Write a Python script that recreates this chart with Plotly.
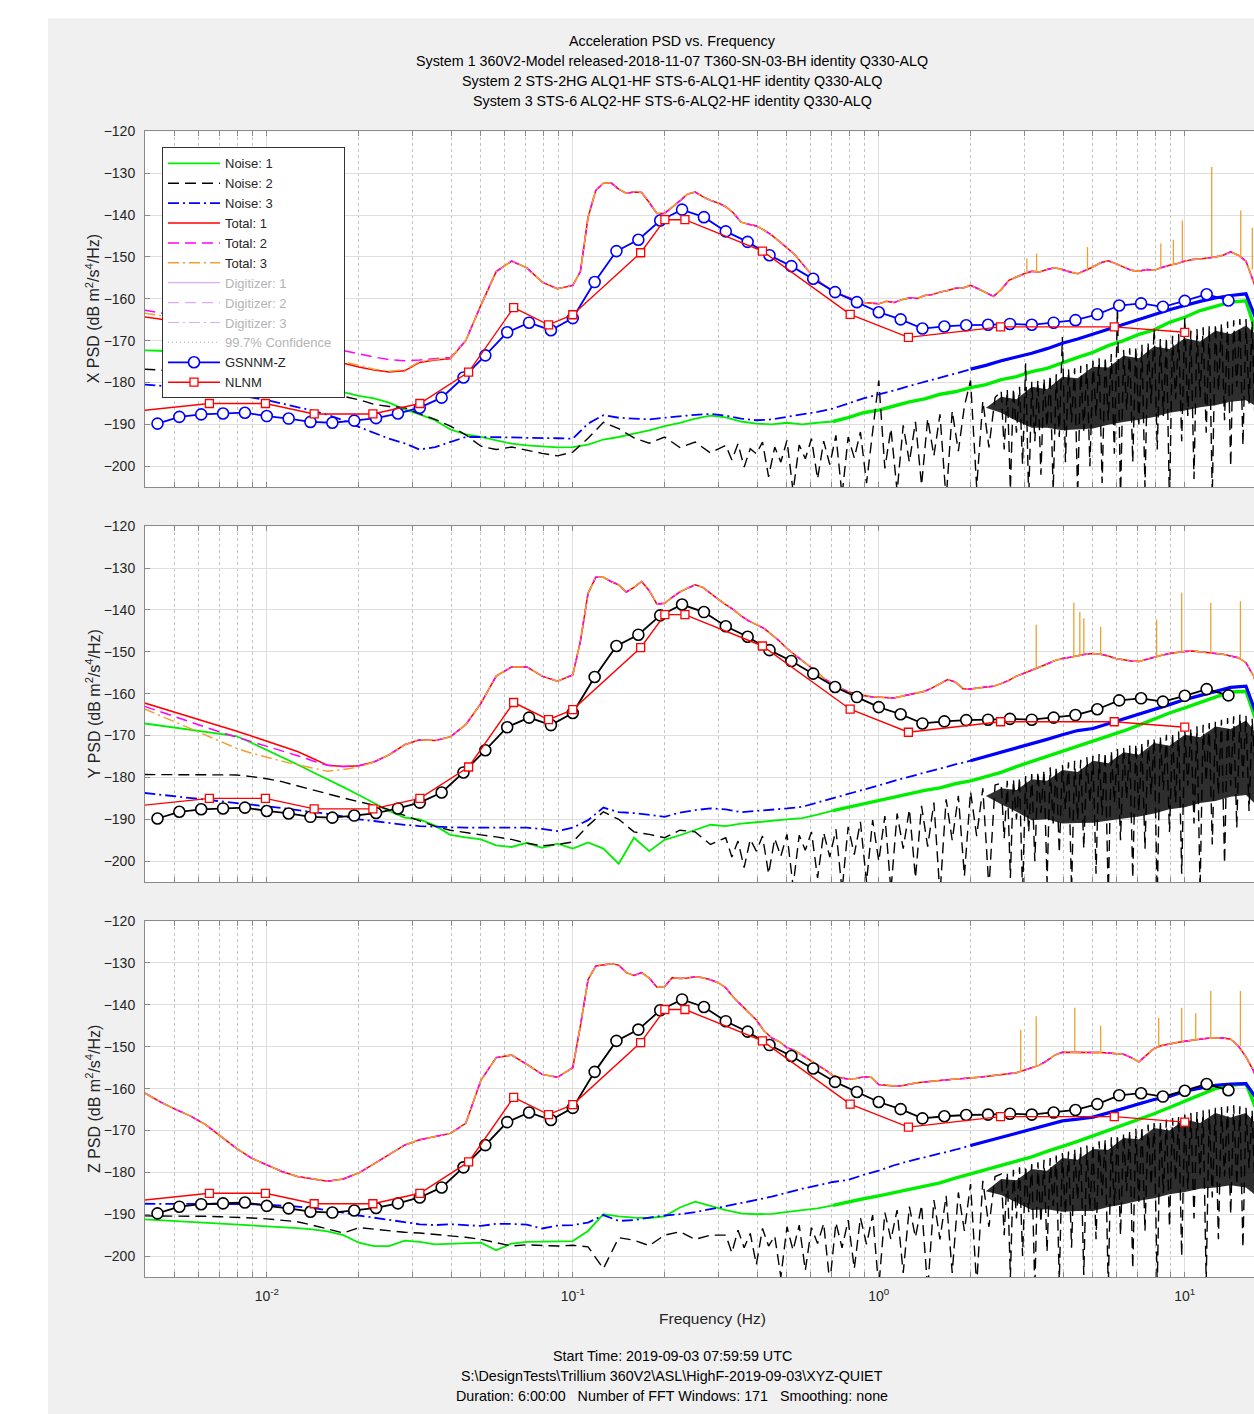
import math
import plotly.graph_objects as go

# ---------------- frequency grids (Hz) ----------------
F_LO = [0.00398, 0.00447, 0.00501, 0.00562, 0.00631, 0.00708, 0.00794, 0.00891,
        0.0100, 0.0112, 0.0126, 0.0141, 0.0158, 0.0178, 0.0200, 0.0224, 0.0251,
        0.0282, 0.0316, 0.0355, 0.0398, 0.0447, 0.0501, 0.0562, 0.0631, 0.0708,
        0.0794, 0.0891, 0.100]
F_MID = [0.1059, 0.1122, 0.1189, 0.1259, 0.1334, 0.1413, 0.1496, 0.1585, 0.1679, 0.1778,
         0.1884, 0.1995, 0.2113, 0.2239, 0.2371, 0.2512, 0.2661, 0.2818, 0.2985, 0.3162,
         0.3350, 0.3548, 0.3758, 0.3981, 0.4217, 0.4467, 0.4732, 0.5012, 0.5309, 0.5623,
         0.5957, 0.6310, 0.6683, 0.7079, 0.7499, 0.7943, 0.8414, 0.8913, 0.9441]
F_HI = [1.000, 1.059, 1.122, 1.189, 1.259, 1.334, 1.413, 1.496, 1.585, 1.679,
        1.778, 1.884, 1.995, 2.113, 2.239, 2.371, 2.512, 2.661, 2.818, 2.985,
        3.162, 3.350, 3.548, 3.758, 3.981, 4.217, 4.467, 4.732, 5.012, 5.309,
        5.623, 5.957, 6.310, 6.683, 7.079, 7.499, 7.943, 8.414, 8.913, 9.441,
        10.00, 10.59, 11.22, 11.89, 12.59, 13.34, 14.13, 14.96, 15.85, 16.79, 17.78]
F_N_HI = [0.1122, 0.1259, 0.1413, 0.1585, 0.1778, 0.1995, 0.2239, 0.2512, 0.2818, 0.3162,
          0.3548, 0.3981, 0.4467, 0.5012, 0.5623, 0.6310, 0.7079, 0.7943, 0.8913, 1.000,
          1.122, 1.259, 1.413, 1.585, 1.778, 1.995, 2.239, 2.512, 2.818, 3.162,
          3.548, 3.981, 4.467, 5.012, 5.623, 6.310, 7.079, 7.943, 8.913, 10.00,
          11.22, 12.59, 14.13, 15.85, 17.78]
F_BLK_MID = [0.1122, 0.1259, 0.1413, 0.1585, 0.1778, 0.1995, 0.2239, 0.2512, 0.2818]
F_SPK = [0.3162, 0.3311, 0.3467, 0.3631, 0.3802, 0.3981, 0.4169, 0.4365, 0.4571, 0.4786,
         0.5012, 0.5248, 0.5495, 0.5754, 0.6026, 0.6310, 0.6607, 0.6918, 0.7244, 0.7586,
         0.7943, 0.8318, 0.8710, 0.9120, 0.9550, 1.000, 1.047, 1.096, 1.148, 1.202,
         1.259, 1.318, 1.380, 1.445, 1.514, 1.585, 1.660, 1.738, 1.820, 1.905,
         1.995, 2.089, 2.188, 2.291, 2.399,
         2.512, 2.570, 2.630, 2.692, 2.754, 2.818, 2.884, 2.951, 3.020, 3.090,
         3.162, 3.236, 3.311, 3.388, 3.467, 3.548, 3.631, 3.715, 3.802, 3.890,
         3.981, 4.074, 4.169, 4.266, 4.365, 4.467, 4.571, 4.677, 4.786, 4.898,
         5.012, 5.129, 5.248, 5.370, 5.495, 5.623, 5.754, 5.888, 6.026, 6.166,
         6.310, 6.457, 6.607, 6.761, 6.918, 7.079, 7.244, 7.413, 7.586, 7.762,
         7.943, 8.128, 8.318, 8.511, 8.710, 8.913, 9.120, 9.333, 9.550, 9.772,
         10.00, 10.23, 10.47, 10.72, 10.96, 11.22, 11.48, 11.75, 12.02, 12.30,
         12.59, 12.88, 13.18, 13.49, 13.80, 14.13, 14.45, 14.79, 15.14, 15.49,
         15.85, 16.22, 16.60, 16.98, 17.38]
# dense part of the spiky Noise 2 band
F_CORE = [2.239, 2.512, 2.818, 3.162, 3.548, 3.981, 4.467, 5.012, 5.623, 6.310,
          7.079, 7.943, 8.913, 10.00, 11.22, 12.59, 14.13, 15.85, 17.38]

# ---------------- reference noise models ----------------
GSNNM_F = [0.004394, 0.005179, 0.006105, 0.007197, 0.008483, 0.01, 0.01179, 0.01389, 0.01638, 0.01931,
           0.02276, 0.02683, 0.03162, 0.03728, 0.04394, 0.05179, 0.06105, 0.07197, 0.08483, 0.1,
           0.1179, 0.1389, 0.1638, 0.1931, 0.2276, 0.2683, 0.3162, 0.3728, 0.4394, 0.5179,
           0.6105, 0.7197, 0.8483, 1.0, 1.179, 1.389, 1.638, 1.931, 2.276, 2.683,
           3.162, 3.728, 4.394, 5.179, 6.105, 7.197, 8.483, 10.0, 11.79, 13.89]
GSNNM_DB = [-189.8, -188.2, -187.6, -187.4, -187.2, -188.0, -188.6, -189.4, -189.6, -189.1,
            -188.5, -187.4, -186.0, -183.6, -178.8, -173.5, -168.0, -165.7, -167.5, -164.6,
            -156.0, -148.6, -145.9, -141.3, -138.7, -140.5, -143.9, -146.4, -149.6, -152.2,
            -155.2, -158.4, -160.8, -163.2, -164.9, -167.1, -166.6, -166.3, -166.2, -166.0,
            -166.2, -165.7, -165.1, -163.7, -161.6, -161.1, -161.9, -160.5, -158.9, -160.4]
NLNM_PERIOD = [328, 154, 101, 70, 45, 31.6, 21.9, 15.6, 12, 10, 6, 5, 4.3, 2.4, 1.24, 0.8, 0.4, 0.17, 0.1]
NLNM_DB = [-187.5, -185.0, -185.0, -187.5, -187.5, -185.0, -177.5, -162.1, -166.2, -163.8,
           -149.0, -141.1, -141.1, -148.6, -163.7, -169.2, -166.7, -166.7, -168.0]

# ---------------- X component ----------------
tot1_lo_X = [-164.3, -164.8, -165.6, -166.4, -167.2, -168.0, -168.8, -169.6, -170.4, -171.2, -172.0, -173.0,
             -174.2, -175.4, -176.3, -177.0, -177.5, -177.2, -175.2, -174.6, -174.3, -170.0, -161.5, -153.5,
             -151.0, -152.6, -156.0, -157.6, -156.8]
tot2_lo_X = [-162.7, -163.3, -164.0, -164.8, -165.5, -166.3, -167.0, -167.8, -168.5, -169.2, -170.0, -170.8,
             -171.6, -172.4, -173.2, -173.9, -174.5, -174.8, -174.6, -174.3, -174.0, -170.0, -161.5, -153.5,
             -151.0, -152.6, -156.0, -157.6, -156.8]
tot3_lo_X = [-163.4, -164.0, -164.8, -165.6, -166.4, -167.2, -168.0, -168.8, -169.6, -170.4, -171.2, -172.2,
             -173.4, -175.0, -176.0, -176.8, -177.3, -177.0, -175.0, -174.5, -174.2, -170.0, -161.5, -153.5,
             -151.0, -152.6, -156.0, -157.6, -156.8]
tot_common_X = [-153.5, -140.5, -134.1, -132.4, -132.3, -133.8, -134.8, -134.5, -134.6, -137.0,
                -139.6, -139.6, -138.2, -136.6, -135.0, -134.5, -135.6, -136.5, -137.1, -138.0,
                -139.5, -141.7, -142.2, -142.6, -143.6, -144.8, -146.3, -147.8, -149.4, -151.6,
                -153.8, -155.6, -157.0, -158.2, -159.0, -159.7, -160.3, -160.9, -161.1,
                -161.2, -160.6, -160.9, -160.2, -159.8, -159.9, -159.2, -159.0, -158.4, -158.0,
                -157.5, -157.4, -156.8, -157.6, -158.6, -159.4, -157.8, -155.6, -154.8, -154.0,
                -153.4, -153.6, -153.0, -152.6, -153.0, -153.6, -154.0, -153.2, -152.4, -151.4,
                -150.9, -151.6, -152.4, -153.2, -153.4, -153.0, -153.2, -152.5, -152.0, -151.6,
                -151.0, -150.6, -150.5, -150.3, -150.0, -149.6, -148.8, -149.6, -151.0, -156.0, -162.0]
spk_f_X = [3.048, 3.28, 4.81, 8.35, 9.18, 9.82, 12.25, 15.24, 16.63]
spk_base_X = [-154.0, -153.6, -153.4, -152.5, -151.8, -151.0, -150.2, -149.8, -153.0]
spk_peak_X = [-150.4, -149.2, -147.6, -146.8, -145.9, -141.3, -128.5, -138.9, -143.0]
noise1_X = [-172.3, -172.4, -172.8, -173.2, -173.7, -174.3, -175.0, -175.8, -176.7, -177.6, -178.6, -179.6,
            -180.8, -182.3, -183.2, -183.8, -184.8, -186.4, -187.6, -189.0, -191.2, -192.4, -193.0, -193.8,
            -194.6, -195.0, -195.3, -195.5, -195.4,
            -194.8, -193.6, -193.0, -192.2, -191.4, -190.4, -189.6, -188.6, -187.9, -188.3,
            -189.3, -189.8, -190.0, -189.6, -190.0, -189.6, -189.3, -188.4, -187.2, -186.6,
            -185.6, -184.6, -183.9, -182.8, -182.2, -181.2, -180.5, -179.3, -178.6, -177.4,
            -176.6, -175.2, -174.0, -172.8, -171.2, -170.0, -168.5, -167.4, -165.6, -164.4,
            -162.8, -161.8, -160.8, -160.5, -172.0]
noise3_X = [-180.5, -180.7, -181.0, -181.4, -181.8, -182.3, -182.9, -183.5, -184.2, -185.0, -185.8, -186.7,
            -187.7, -189.0, -190.6, -192.0, -193.4, -194.5, -196.0, -195.4, -194.2, -193.0, -193.0, -193.0,
            -193.1, -193.2, -193.2, -193.3, -193.4,
            -189.8, -187.8, -188.4, -188.6, -188.8, -188.4, -188.0, -187.7, -187.5, -187.9,
            -188.6, -189.0, -188.8, -188.2, -187.6, -187.0, -186.2, -185.0, -183.8, -182.8,
            -181.9, -180.8, -179.8, -178.8, -177.8, -176.8, -175.9, -174.8, -173.9, -173.0,
            -171.9, -170.6, -169.6, -168.4, -167.2, -166.0, -164.9, -163.8, -162.6, -161.6,
            -160.6, -159.8, -159.2, -158.8, -168.0]
noise2_X = [-176.8, -177.0, -177.4, -177.9, -178.5, -179.1, -179.7, -180.3, -180.9, -181.4, -181.9, -182.4,
            -182.9, -183.3, -184.1, -185.2, -185.7, -186.0, -187.5, -188.8, -190.4, -192.5, -195.2, -196.0,
            -195.4, -196.2, -196.9, -197.5, -196.6,
            -193.3, -189.5, -191.0, -193.2, -194.5, -193.0, -195.5, -194.2, -196.8,
            -195.0, -198.5, -194.6, -200.2, -195.8, -197.0, -194.2, -202.5, -195.4, -199.0,
            -193.8, -206.0, -194.9, -198.2, -193.4, -203.0, -194.0, -199.6, -192.6, -207.0,
            -193.0, -198.0, -191.8, -204.0, -192.2, -179.5, -200.5, -191.0, -206.0, -190.2,
            -199.0, -189.4, -204.5, -188.6, -197.5, -187.6, -208.0, -186.8, -196.4, -185.6,
            -179.5, -205.0, -184.4, -195.5, -183.6,
            -182.0, -196.0, -181.6, -205.5, -181.4, -192.0, -181.0, -199.5, -175.4, -208.0,
            -179.8, -194.0, -179.4, -202.0, -179.0, -190.5, -178.2, -206.0, -178.0, -193.0,
            -169.1, -199.0, -176.8, -189.5, -176.6, -207.0, -176.0, -191.5, -175.6, -200.0,
            -174.8, -188.0, -174.2, -204.0, -173.8, -189.0, -173.2, -197.0, -162.0, -208.0,
            -172.2, -186.5, -171.8, -199.0, -171.4, -190.0, -171.0, -205.0, -170.4, -185.0,
            -167.0, -196.0, -169.6, -188.0, -169.2, -209.0, -168.8, -184.0, -168.4, -194.0,
            -164.5, -188.0, -167.6, -203.0, -167.2, -183.5, -166.8, -192.0, -166.4, -207.0,
            -166.0, -182.0, -165.8, -189.0, -165.4, -200.0, -165.1, -181.0, -164.8, -195.0,
            -164.8, -185.0, -165.4, -191.0, -167.0]
core_up_X = [-186.0, -183.4, -184.0, -181.0, -181.6, -178.6, -179.0, -176.2, -176.4, -173.6,
             -174.2, -171.4, -172.0, -169.4, -170.2, -167.6, -168.4, -166.4, -169.0]
core_lo_X = [-186.0, -187.2, -189.2, -190.8, -190.8, -191.4, -191.2, -191.0, -190.1, -189.4,
             -188.9, -188.2, -187.2, -186.7, -185.9, -185.4, -184.6, -184.2, -186.0]

# ---------------- Y component ----------------
tot1_lo_Y = [-162.2, -163.3, -164.5, -165.6, -166.7, -167.8, -168.9, -170.1, -171.3, -172.5, -173.8, -175.4,
             -177.1, -177.4, -177.2, -176.3, -174.6, -172.2, -171.0, -171.2, -170.3, -167.4, -162.3, -155.8,
             -153.6, -153.6, -155.8, -157.0, -155.5]
tot2_lo_Y = [-163.0, -164.3, -165.6, -166.8, -168.0, -169.2, -170.3, -171.4, -172.6, -173.7, -174.8, -176.0,
             -177.1, -177.4, -177.2, -176.3, -174.6, -172.2, -171.0, -171.2, -170.3, -167.4, -162.3, -155.8,
             -153.6, -153.6, -155.8, -157.0, -155.5]
tot3_lo_Y = [-163.6, -165.2, -166.8, -168.4, -170.0, -171.5, -173.0, -174.2, -175.2, -176.1, -177.0, -177.8,
             -178.5, -178.1, -177.5, -176.3, -174.6, -172.2, -171.0, -171.2, -170.3, -167.4, -162.3, -155.8,
             -153.6, -153.6, -155.8, -157.0, -155.5]
tot_common_Y = [-147.5, -136.0, -132.2, -132.2, -133.2, -134.0, -135.7, -134.6, -133.2, -135.4,
                -138.6, -138.4, -137.0, -135.7, -134.8, -134.0, -134.6, -136.1, -137.4, -138.7,
                -139.9, -141.4, -142.6, -143.5, -144.4, -145.9, -147.4, -149.2, -150.6, -152.1,
                -153.6, -155.0, -156.6, -157.7, -158.7, -159.5, -160.0, -160.4, -160.7,
                -160.8, -161.0, -161.0, -160.6, -160.2, -159.8, -159.4, -158.6, -157.6, -156.6,
                -157.2, -158.8, -158.9, -158.6, -158.4, -158.2, -157.6, -156.8, -155.8, -155.1,
                -154.4, -153.7, -152.9, -152.1, -151.6, -151.3, -150.9, -150.6, -150.4, -150.6,
                -151.0, -151.6, -151.9, -152.2, -152.3, -151.8, -151.2, -150.8, -150.4, -150.1,
                -149.9, -149.8, -150.0, -150.1, -150.3, -150.6, -151.0, -151.4, -152.6, -155.8, -161.0]
spk_f_Y = [3.27, 4.34, 4.54, 4.68, 5.31, 8.09, 9.77, 12.16, 15.2]
spk_base_Y = [-153.7, -151.2, -150.8, -150.7, -150.6, -151.2, -149.9, -150.1, -151.4]
spk_peak_Y = [-143.5, -138.3, -140.5, -142.0, -144.0, -142.3, -135.9, -138.3, -137.9]
noise1_Y = [-167.1, -167.6, -168.1, -168.6, -169.1, -169.6, -170.1, -171.7, -173.4, -175.2, -176.9, -178.7,
            -180.4, -182.3, -184.2, -186.0, -188.0, -189.6, -190.0, -191.5, -193.7, -194.3, -194.8, -196.2,
            -196.6, -195.6, -196.8, -195.8, -197.0,
            -195.5, -197.0, -200.6, -194.4, -197.6, -194.9, -193.8, -192.6, -191.3, -191.6,
            -191.0, -190.7, -190.3, -190.0, -189.7, -188.9, -187.9, -187.1, -186.2, -185.5,
            -184.8, -184.0, -183.1, -182.5, -181.5, -180.8, -179.8, -178.8, -177.4, -176.2,
            -175.1, -173.8, -172.7, -171.5, -170.2, -168.9, -167.5, -166.0, -164.6, -163.4,
            -162.0, -160.8, -159.6, -159.4, -170.0]
noise3_Y = [-183.7, -184.1, -184.5, -184.9, -185.2, -185.6, -186.0, -186.4, -186.8, -187.3, -187.8, -188.2,
            -188.7, -189.3, -190.0, -190.4, -190.9, -191.3, -191.6, -191.8, -191.9, -192.0, -192.0, -192.0,
            -192.0, -192.0, -192.3, -192.8, -192.0,
            -190.2, -187.2, -188.3, -188.5, -189.0, -189.4, -188.4, -187.8, -187.4, -187.6,
            -188.3, -188.0, -187.8, -187.4, -187.0, -186.0, -184.9, -184.0, -182.9, -181.9,
            -180.8, -179.8, -178.8, -177.9, -176.9, -176.0, -175.0, -173.9, -173.0, -171.9,
            -170.9, -169.8, -168.8, -168.3, -167.2, -166.0, -164.8, -163.7, -162.6, -161.4,
            -160.4, -159.4, -158.5, -158.2, -168.0]
noise2_Y = [-179.3, -179.3, -179.3, -179.3, -179.3, -179.3, -179.4, -179.8, -180.3, -181.0, -182.0, -182.9,
            -184.0, -184.9, -185.8, -186.6, -187.7, -189.0, -190.3, -191.7, -192.6, -193.2, -193.7, -194.2,
            -194.8, -195.7, -196.3, -196.0, -195.4,
            -191.5, -188.2, -190.0, -193.0, -193.6, -194.4, -192.6, -193.0, -196.0,
            -194.4, -199.0, -195.2, -201.5, -194.8, -197.6, -194.0, -203.0, -194.6, -198.8,
            -193.6, -206.0, -193.8, -197.4, -193.0, -204.0, -193.2, -199.0, -192.4, -207.0,
            -191.8, -198.4, -190.6, -205.0, -190.2, -200.0, -189.2, -207.0, -188.6, -197.0,
            -187.6, -204.0, -186.8, -196.5, -186.0, -208.0, -185.2, -195.0, -184.4, -203.5,
            -183.4, -194.0, -182.6, -206.5, -181.8,
            -181.4, -194.5, -180.8, -204.0, -180.4, -190.0, -180.0, -208.0, -179.6, -193.0,
            -179.2, -200.0, -178.6, -188.5, -178.2, -205.0, -177.6, -191.0, -177.4, -198.0,
            -177.0, -187.5, -176.4, -207.0, -176.0, -190.0, -175.8, -197.0, -175.2, -186.0,
            -174.8, -203.0, -174.4, -189.0, -174.0, -208.5, -173.6, -186.0, -173.2, -195.0,
            -172.8, -185.0, -172.4, -204.0, -172.0, -188.0, -171.6, -197.0, -171.0, -184.0,
            -170.6, -209.0, -170.2, -183.0, -169.8, -193.0, -169.4, -186.0, -169.0, -203.0,
            -168.6, -182.0, -168.2, -191.0, -167.8, -207.0, -167.4, -181.0, -167.0, -196.0,
            -166.6, -184.0, -166.2, -200.5, -165.8, -182.0, -165.4, -192.0, -165.0, -180.0,
            -165.2, -188.0, -166.0, -178.0, -168.0]
core_up_Y = [-184.4, -182.6, -183.0, -180.4, -180.8, -178.2, -178.7, -176.0, -176.6, -174.0,
             -174.6, -171.8, -172.4, -169.8, -170.4, -167.8, -168.4, -166.4, -170.0]
core_lo_Y = [-184.4, -186.4, -188.2, -190.2, -190.0, -191.0, -190.9, -190.8, -190.3, -189.8,
             -189.3, -188.6, -187.6, -187.1, -186.1, -185.6, -184.6, -184.2, -187.0]

# ---------------- Z component ----------------
tot_lo_Z = [-161.0, -163.1, -164.9, -166.5, -168.6, -171.3, -174.2, -176.6, -178.3, -179.8, -181.0, -181.6,
            -182.1, -181.6, -180.1, -178.0, -175.8, -173.5, -172.2, -171.4, -170.7, -168.3, -158.0, -152.6,
            -152.0, -154.2, -156.6, -157.3, -155.0]
tot_common_Z = [-145.0, -134.0, -130.7, -130.5, -130.2, -130.5, -132.3, -133.0, -132.3, -133.6,
                -135.8, -135.6, -133.5, -133.7, -133.6, -133.3, -133.5, -134.0, -134.7, -135.9,
                -138.2, -140.0, -141.7, -143.6, -146.2, -147.9, -148.8, -150.2, -150.9, -152.0,
                -153.2, -154.2, -155.5, -156.9, -157.4, -157.7, -157.6, -157.2, -157.3,
                -159.0, -159.2, -159.4, -159.3, -158.9, -158.6, -158.4, -158.2, -158.0, -157.9,
                -157.7, -157.6, -157.5, -157.3, -157.1, -156.9, -156.7, -156.5, -156.2, -155.6,
                -155.0, -154.4, -153.3, -152.0, -151.3, -151.3, -151.4, -151.4, -151.4, -151.4,
                -151.5, -151.6, -151.8, -152.6, -153.6, -152.0, -150.4, -149.7, -149.3, -149.0,
                -148.7, -148.4, -148.2, -148.0, -147.9, -147.9, -148.2, -149.8, -152.4, -155.8, -161.0]
spk_f_Z = [2.91, 3.27, 4.37, 5.31, 8.22, 9.77, 10.86, 12.16, 15.2]
spk_base_Z = [-155.8, -154.4, -151.4, -151.4, -150.2, -148.8, -148.3, -148.0, -149.8]
spk_peak_Z = [-146.0, -142.7, -140.7, -145.0, -143.1, -140.7, -142.0, -136.7, -136.7]
noise1_Z = [-191.2, -191.4, -191.6, -191.8, -192.0, -192.2, -192.4, -192.6, -192.8, -193.0, -193.3, -193.6,
            -194.1, -195.0, -196.8, -197.6, -197.6, -196.3, -196.6, -197.2, -197.1, -197.0, -196.8, -198.6,
            -197.0, -196.6, -196.5, -196.4, -196.4,
            -194.0, -190.0, -190.5, -190.8, -190.9, -190.5, -188.4, -187.0, -188.0, -189.0,
            -189.8, -190.0, -189.9, -189.4, -189.0, -188.6, -187.9, -187.0, -186.3, -185.6,
            -184.8, -184.1, -183.3, -182.5, -181.4, -180.4, -179.4, -178.2, -177.3, -176.3,
            -175.0, -173.9, -172.6, -171.3, -170.0, -168.7, -167.3, -166.0, -164.5, -162.9,
            -161.5, -160.0, -159.2, -158.8, -168.0]
noise3_Z = [-187.5, -187.5, -187.5, -187.5, -187.5, -187.5, -187.5, -187.6, -187.7, -187.9, -188.2, -188.5,
            -189.0, -189.6, -190.3, -190.8, -191.3, -191.8, -192.4, -192.6, -192.4, -192.6, -192.8, -192.3,
            -192.3, -192.5, -193.4, -192.7, -192.6,
            -192.0, -190.2, -191.6, -191.4, -190.8, -190.3, -190.0, -189.5, -188.8, -188.1,
            -187.4, -186.6, -185.8, -184.8, -183.9, -183.1, -182.3, -181.8, -180.6, -179.6,
            -178.3, -177.3, -176.4, -175.6, -174.6, -173.6, -172.6, -171.6, -170.6, -169.6,
            -168.6, -167.7, -167.3, -166.8, -165.8, -164.7, -163.5, -162.6, -161.9, -160.6,
            -159.9, -159.2, -158.9, -158.8, -164.0]
noise2_Z = [-190.4, -190.4, -190.4, -190.5, -190.5, -190.6, -190.7, -190.9, -191.1, -191.4, -191.8, -192.6,
            -193.6, -194.5, -193.2, -193.6, -194.0, -194.3, -194.5, -194.8, -195.2, -195.5, -196.0, -196.8,
            -197.6, -197.3, -197.4, -197.6, -197.4,
            -197.8, -203.0, -195.6, -196.2, -197.5, -195.0, -194.2, -196.0, -195.0,
            -195.0, -199.2, -193.8, -198.0, -194.6, -202.0, -193.4, -197.6, -195.2, -205.0,
            -193.0, -198.6, -192.6, -203.4, -193.2, -197.0, -192.2, -206.5, -192.0, -198.0,
            -191.4, -203.0, -190.8, -197.2, -190.2, -207.5, -189.6, -196.0, -189.0, -204.0,
            -188.2, -195.5, -187.8, -208.0, -186.6, -196.0, -185.6, -204.0, -184.8, -194.0,
            -182.8, -207.0, -182.0, -193.0, -181.0,
            -180.4, -195.0, -180.0, -205.0, -179.4, -191.0, -178.8, -200.0, -178.4, -189.5,
            -178.0, -208.0, -177.6, -192.0, -177.0, -199.0, -176.6, -188.0, -176.0, -206.0,
            -175.4, -190.0, -175.0, -198.0, -174.4, -186.5, -174.0, -204.5, -173.6, -189.0,
            -173.2, -196.0, -172.6, -185.5, -172.0, -208.0, -171.6, -188.0, -171.0, -195.0,
            -170.6, -184.5, -170.0, -203.0, -169.6, -187.0, -169.0, -194.0, -168.6, -183.0,
            -168.2, -207.5, -167.8, -185.0, -167.4, -193.0, -167.0, -182.0, -166.6, -200.0,
            -166.2, -184.0, -165.8, -191.0, -165.6, -180.5, -165.2, -206.0, -165.0, -186.0,
            -164.6, -196.0, -164.4, -181.0, -164.2, -190.0, -164.0, -183.0, -164.2, -198.0,
            -164.6, -179.0, -165.2, -186.0, -167.0]
core_up_Z = [-184.5, -181.6, -181.9, -179.2, -179.6, -176.6, -177.0, -174.4, -174.6, -171.8,
             -172.1, -169.4, -170.0, -167.4, -168.2, -165.8, -166.9, -165.8, -169.0]
core_lo_Z = [-184.5, -185.4, -187.1, -189.0, -188.8, -189.4, -189.2, -189.2, -188.3, -187.6,
             -186.8, -186.2, -185.2, -184.7, -183.9, -183.6, -183.1, -183.6, -186.0]

# ---------------- text ----------------
TITLE_LINES = ["Acceleration PSD vs. Frequency",
               "System 1 360V2-Model released-2018-11-07 T360-SN-03-BH identity Q330-ALQ",
               "System 2 STS-2HG ALQ1-HF STS-6-ALQ1-HF identity Q330-ALQ",
               "System 3 STS-6 ALQ2-HF STS-6-ALQ2-HF identity Q330-ALQ"]
FOOT_LINES = ["Start Time: 2019-09-03 07:59:59 UTC",
              "S:\\DesignTests\\Trillium 360V2\\ASL\\HighF-2019-09-03\\XYZ-QUIET",
              "Duration: 6:00:00 &nbsp;&nbsp;Number of FFT Windows: 171 &nbsp;&nbsp;Smoothing: none"]
YLABELS = ["X PSD (dB m<sup>2</sup>/s<sup>4</sup>/Hz)",
           "Y PSD (dB m<sup>2</sup>/s<sup>4</sup>/Hz)",
           "Z PSD (dB m<sup>2</sup>/s<sup>4</sup>/Hz)"]
X_TICKS = [0.01, 0.1, 1, 10]
X_TICKTEXT = ["10<sup>-2</sup>", "10<sup>-1</sup>", "10<sup>0</sup>", "10<sup>1</sup>"]
Y_TICKS = [-200, -190, -180, -170, -160, -150, -140, -130, -120]

lo_n = len(F_LO)
for arr in [tot1_lo_X, tot2_lo_X, tot3_lo_X, tot1_lo_Y, tot2_lo_Y, tot3_lo_Y, tot_lo_Z]:
    assert len(arr) == lo_n, len(arr)
for arr in [tot_common_X, tot_common_Y, tot_common_Z]:
    assert len(arr) == len(F_MID) + len(F_HI), len(arr)
for arr in [noise1_X, noise3_X, noise1_Y, noise3_Y, noise1_Z, noise3_Z]:
    assert len(arr) == lo_n + len(F_N_HI), len(arr)
for arr in [noise2_X, noise2_Y, noise2_Z]:
    assert len(arr) == lo_n + len(F_BLK_MID) + len(F_SPK), len(arr)
for arr in [core_up_X, core_lo_X, core_up_Y, core_lo_Y, core_up_Z, core_lo_Z]:
    assert len(arr) == len(F_CORE), len(arr)

panels = [
    dict(n1=noise1_X, n2=noise2_X, n3=noise3_X, t1=tot1_lo_X, t2=tot2_lo_X, t3=tot3_lo_X, tc=tot_common_X,
         sf=spk_f_X, sb=spk_base_X, sp=spk_peak_X, cu=core_up_X, cl=core_lo_X, gcol="#0000ff"),
    dict(n1=noise1_Y, n2=noise2_Y, n3=noise3_Y, t1=tot1_lo_Y, t2=tot2_lo_Y, t3=tot3_lo_Y, tc=tot_common_Y,
         sf=spk_f_Y, sb=spk_base_Y, sp=spk_peak_Y, cu=core_up_Y, cl=core_lo_Y, gcol="#000000"),
    dict(n1=noise1_Z, n2=noise2_Z, n3=noise3_Z, t1=tot_lo_Z, t2=tot_lo_Z, t3=tot_lo_Z, tc=tot_common_Z,
         sf=spk_f_Z, sb=spk_base_Z, sp=spk_peak_Z, cu=core_up_Z, cl=core_lo_Z, gcol="#000000"),
]

GREEN = "#00ee00"
ORANGE = "#f0a030"
DASH = "11px,6px"
DASHDOT = "11px,4px,2px,4px"
FONT = "Liberation Sans, Arial, Helvetica, sans-serif"

F_TOT = F_LO + F_MID + F_HI
F_NOISE = F_LO + F_N_HI
F_BLACK = F_LO + F_BLK_MID + F_SPK
NLNM_F = [1.0 / p for p in NLNM_PERIOD]
GREEN_FUZZ_FROM = lo_n + F_N_HI.index(0.7079)
BLUE_FUZZ_FROM = lo_n + F_N_HI.index(1.995)

fig = go.Figure()
for i, p in enumerate(panels):
    xa = "x" if i == 0 else "x%d" % (i + 1)
    ya = "y" if i == 0 else "y%d" % (i + 1)
    leg = (i == 0)
    def add(**kw):
        kw.setdefault("showlegend", leg)
        fig.add_trace(go.Scatter(xaxis=xa, yaxis=ya, hoverinfo="skip", **kw))
    add(x=F_NOISE, y=p["n1"], mode="lines", name="Noise: 1", line=dict(color=GREEN, width=1.8))
    add(x=F_NOISE[GREEN_FUZZ_FROM:], y=p["n1"][GREEN_FUZZ_FROM:], mode="lines", name="n1b", showlegend=False,
        line=dict(color=GREEN, width=3.4))
    # dense core of the spiky Noise 2 band
    add(x=F_CORE + F_CORE[::-1], y=p["cu"] + p["cl"][::-1], mode="lines", name="core", showlegend=False,
        fill="toself", fillcolor="rgba(0,0,0,0.82)", line=dict(width=0, color="rgba(0,0,0,0)"))
    add(x=F_BLACK, y=p["n2"], mode="lines", name="Noise: 2", line=dict(color="#000000", width=1.4, dash=DASH))
    add(x=F_NOISE, y=p["n3"], mode="lines", name="Noise: 3", line=dict(color="#0000ff", width=1.8, dash=DASHDOT))
    add(x=F_NOISE[BLUE_FUZZ_FROM:], y=p["n3"][BLUE_FUZZ_FROM:], mode="lines", name="n3b", showlegend=False,
        line=dict(color="#0000ff", width=3.2))
    add(x=F_TOT, y=p["t1"] + p["tc"], mode="lines", name="Total: 1", line=dict(color="#ff0000", width=1.5))
    add(x=F_TOT, y=p["t2"] + p["tc"], mode="lines", name="Total: 2", line=dict(color="#ff00ff", width=1.5, dash=DASH))
    add(x=F_TOT, y=p["t3"] + p["tc"], mode="lines", name="Total: 3", line=dict(color=ORANGE, width=1.5, dash=DASHDOT))
    sx, sy = [], []
    for f, b, pk in zip(p["sf"], p["sb"], p["sp"]):
        sx += [f, f, None]
        sy += [b, pk, None]
    add(x=sx, y=sy, mode="lines", name="spikes", showlegend=False, line=dict(color=ORANGE, width=1.3))
    if leg:
        gray_txt = "<span style='color:#b4b4b4'>%s</span>"
        add(x=[None], y=[None], mode="lines", name=gray_txt % "Digitizer: 1", line=dict(color="#dcaaff", width=1.2))
        add(x=[None], y=[None], mode="lines", name=gray_txt % "Digitizer: 2", line=dict(color="#dcaaff", width=1.2, dash=DASH))
        add(x=[None], y=[None], mode="lines", name=gray_txt % "Digitizer: 3", line=dict(color="#dcaaff", width=1.2, dash=DASHDOT))
        add(x=[None], y=[None], mode="lines", name=gray_txt % "99.7% Confidence&nbsp;&nbsp;",
            line=dict(color="#bdbdbd", width=1.2, dash="1px,3px"))
    add(x=GSNNM_F, y=GSNNM_DB, mode="lines+markers", name="GSNNM-Z",
        line=dict(color=p["gcol"], width=1.8),
        marker=dict(symbol="circle", size=11, color="white", line=dict(color=p["gcol"], width=1.6)))
    add(x=NLNM_F, y=NLNM_DB, mode="lines+markers", name="NLNM",
        line=dict(color="#ff0000", width=1.4),
        marker=dict(symbol="square", size=8, color="white", line=dict(color="#ff0000", width=1.3)))

W, H = 1254, 1414
L_PX, R_PX = 145, 1254
PW = R_PX - L_PX
K_V = 0.9946  # vertical correction measured from the rendered output
def px_x(x):
    return (x - L_PX) / PW
def px_y(y):
    y_set = H - (H - y) / K_V
    return 1 - y_set / H

minor_vals = [m * 10.0 ** e for e in range(-3, 2) for m in range(2, 10)]
tops = [131, 526, 921]
PH = 356
layout = dict(
    width=W, height=H, autosize=False,
    margin=dict(l=L_PX, r=W - R_PX, t=0, b=0, pad=0),
    paper_bgcolor="#f0f0f0", plot_bgcolor="white",
    font=dict(family=FONT, size=14, color="#262626"),
    showlegend=True,
    legend=dict(x=px_x(162), y=px_y(147), xanchor="left", yanchor="top",
                bgcolor="white", bordercolor="#333333", borderwidth=1,
                font=dict(family=FONT, size=13, color="#262626"),
                itemwidth=52, tracegroupgap=0, traceorder="normal"),
)
for i in range(3):
    xk = "xaxis" if i == 0 else "xaxis%d" % (i + 1)
    yk = "yaxis" if i == 0 else "yaxis%d" % (i + 1)
    yname = "y" if i == 0 else "y%d" % (i + 1)
    layout[xk] = dict(
        type="log", range=[math.log10(0.004), math.log10(0.004) + PW / 306.0],
        domain=[0, 1], anchor=yname,
        showline=True, linecolor="#8a8a8a", linewidth=1, mirror="allticks",
        ticks="inside", ticklen=5, tickcolor="#8a8a8a",
        tickmode="array", tickvals=X_TICKS, ticktext=X_TICKTEXT,
        showticklabels=(i == 2), ticklabelstandoff=6,
        tickfont=dict(family=FONT, size=14, color="#262626"),
        showgrid=True, gridcolor="#dedede", gridwidth=1, zeroline=False,
        minor=dict(tickmode="array", tickvals=minor_vals, ticks="inside", ticklen=5, tickcolor="#8a8a8a",
                   showgrid=True, gridcolor="#c4c4c4", griddash="dot", gridwidth=1),
    )
    top = tops[i]
    layout[yk] = dict(
        range=[-205, -120], domain=[px_y(top + PH), px_y(top)], anchor="x" if i == 0 else "x%d" % (i + 1),
        showline=True, linecolor="#8a8a8a", linewidth=1, mirror=False,
        ticks="inside", ticklen=5, tickcolor="#8a8a8a",
        tickmode="array", tickvals=Y_TICKS, ticklabelstandoff=6,
        tickfont=dict(family=FONT, size=14, color="#262626"),
        showgrid=True, gridcolor="#dedede", gridwidth=1, zeroline=False,
    )
fig.update_layout(**layout)

ann = []
for k, t in enumerate(TITLE_LINES):
    ann.append(dict(text=t, x=px_x(672), y=px_y(41 + 20 * k), xref="paper", yref="paper",
                    xanchor="center", yanchor="middle", showarrow=False,
                    font=dict(family=FONT, size=14.3, color="#000000")))
ann.append(dict(text="Frequency (Hz)", x=px_x(712), y=px_y(1318), xref="paper", yref="paper",
                xanchor="center", yanchor="middle", showarrow=False,
                font=dict(family=FONT, size=15.5, color="#262626")))
for k, t in enumerate(FOOT_LINES):
    ann.append(dict(text=t, x=px_x(672), y=px_y(1356 + 20 * k), xref="paper", yref="paper",
                    xanchor="center", yanchor="middle", showarrow=False,
                    font=dict(family=FONT, size=14.3, color="#000000")))
for i, t in enumerate(YLABELS):
    ann.append(dict(text=t, x=px_x(93), y=px_y(tops[i] + PH / 2), xref="paper", yref="paper",
                    xanchor="center", yanchor="middle", showarrow=False, textangle=-90,
                    font=dict(family=FONT, size=16, color="#262626")))
fig.update_layout(annotations=ann)

fig.update_layout(shapes=[
    dict(type="rect", xref="paper", yref="paper", x0=px_x(-5), x1=px_x(48), y0=-0.01, y1=1.01,
         fillcolor="white", line=dict(width=0), layer="below"),
    dict(type="rect", xref="paper", yref="paper", x0=px_x(-5), x1=px_x(W + 5), y0=px_y(18), y1=1.01,
         fillcolor="white", line=dict(width=0), layer="below"),
])

fig.write_html("out.html")
